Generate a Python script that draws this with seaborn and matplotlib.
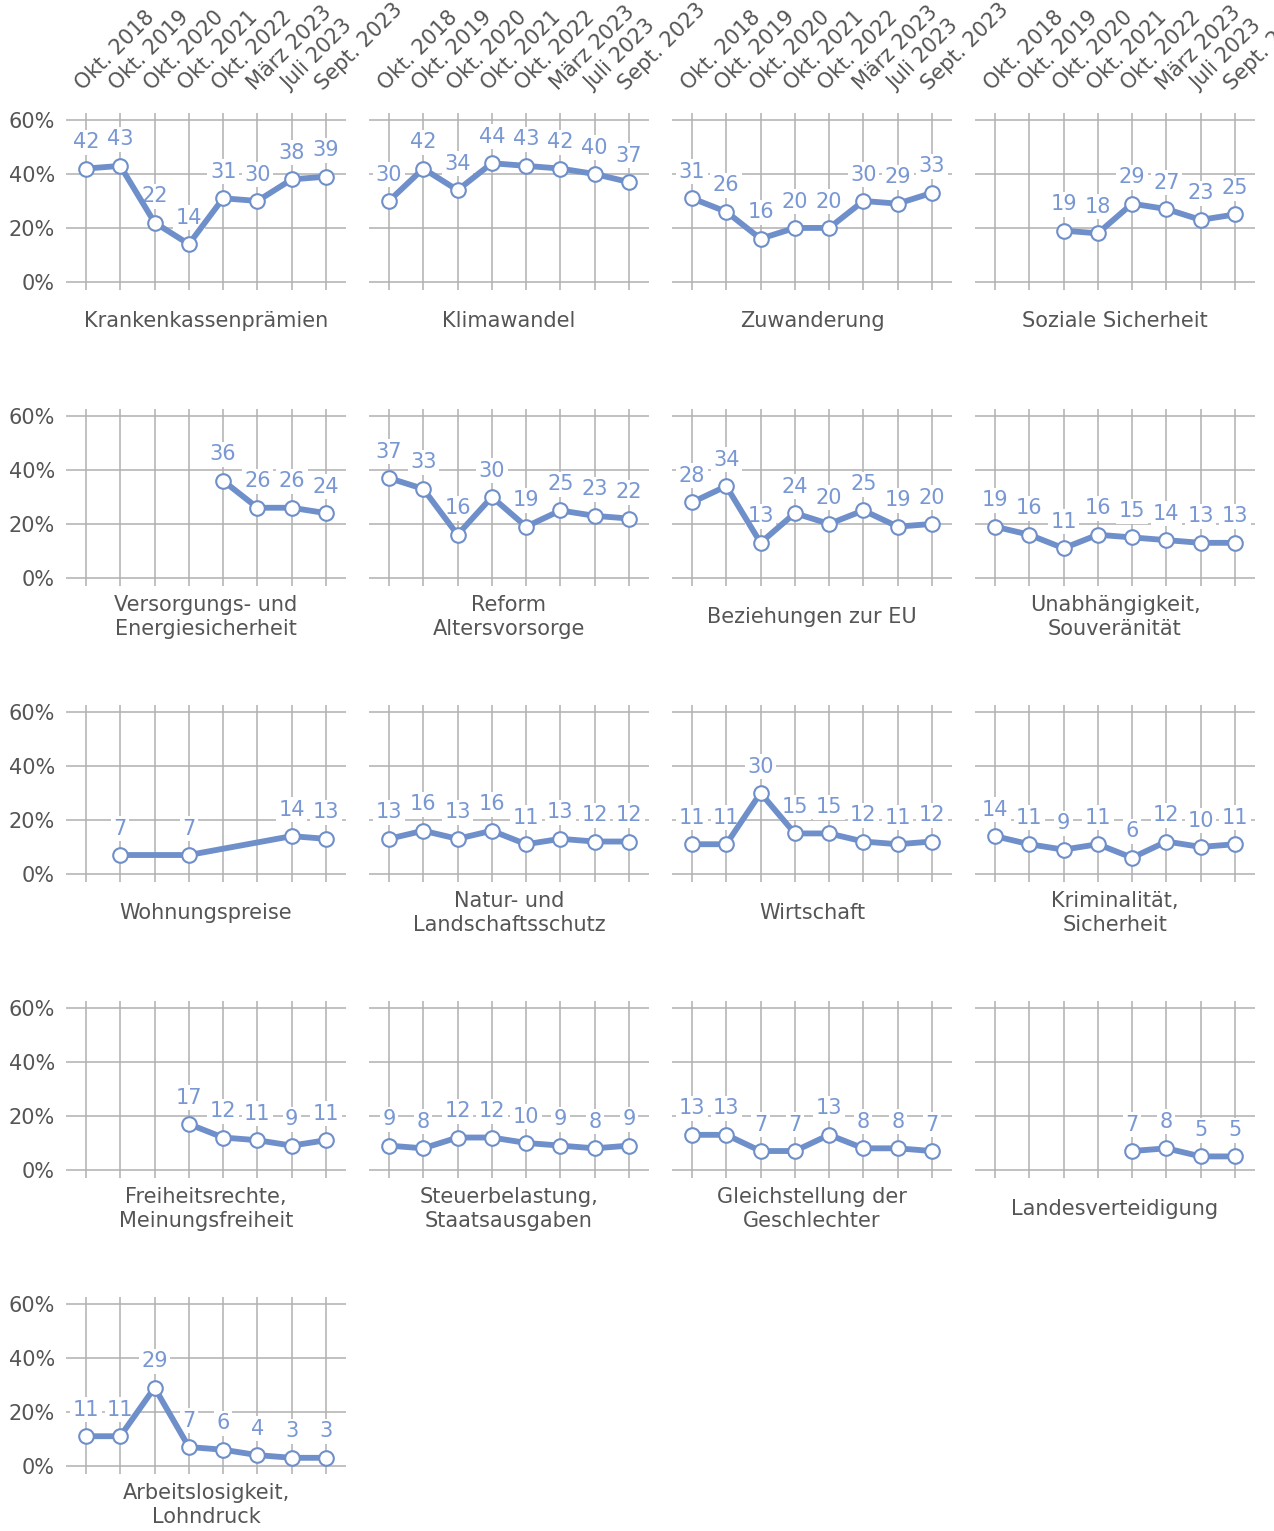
import numpy as np
import pandas as pd
import matplotlib.pyplot as plt
import seaborn as sns

sns.set_style("white")
plt.rcParams["font.family"] = ["DejaVu Sans"]

# --- Data ---------------------------------------------------------------
periods = ["Okt. 2018", "Okt. 2019", "Okt. 2020", "Okt. 2021", "Okt. 2022",
           "März 2023", "Juli 2023", "Sept. 2023"]
nan = np.nan

krankenkassen = [42, 43, 22, 14, 31, 30, 38, 39]
klimawandel = [30, 42, 34, 44, 43, 42, 40, 37]
zuwanderung = [31, 26, 16, 20, 20, 30, 29, 33]
soziale_sicherheit = [nan, nan, 19, 18, 29, 27, 23, 25]
energie = [nan, nan, nan, nan, 36, 26, 26, 24]
altersvorsorge = [37, 33, 16, 30, 19, 25, 23, 22]
eu = [28, 34, 13, 24, 20, 25, 19, 20]
souveraenitaet = [19, 16, 11, 16, 15, 14, 13, 13]
wohnungspreise = [nan, 7, nan, 7, nan, nan, 14, 13]
naturschutz = [13, 16, 13, 16, 11, 13, 12, 12]
wirtschaft = [11, 11, 30, 15, 15, 12, 11, 12]
kriminalitaet = [14, 11, 9, 11, 6, 12, 10, 11]
freiheitsrechte = [nan, nan, nan, 17, 12, 11, 9, 11]
steuern = [9, 8, 12, 12, 10, 9, 8, 9]
gleichstellung = [13, 13, 7, 7, 13, 8, 8, 7]
verteidigung = [nan, nan, nan, nan, 7, 8, 5, 5]
arbeitslosigkeit = [11, 11, 29, 7, 6, 4, 3, 3]

panels = [
    ("Krankenkassenprämien", krankenkassen),
    ("Klimawandel", klimawandel),
    ("Zuwanderung", zuwanderung),
    ("Soziale Sicherheit", soziale_sicherheit),
    ("Versorgungs- und\nEnergiesicherheit", energie),
    ("Reform\nAltersvorsorge", altersvorsorge),
    ("Beziehungen zur EU", eu),
    ("Unabhängigkeit,\nSouveränität", souveraenitaet),
    ("Wohnungspreise", wohnungspreise),
    ("Natur- und\nLandschaftsschutz", naturschutz),
    ("Wirtschaft", wirtschaft),
    ("Kriminalität,\nSicherheit", kriminalitaet),
    ("Freiheitsrechte,\nMeinungsfreiheit", freiheitsrechte),
    ("Steuerbelastung,\nStaatsausgaben", steuern),
    ("Gleichstellung der\nGeschlechter", gleichstellung),
    ("Landesverteidigung", verteidigung),
    ("Arbeitslosigkeit,\nLohndruck", arbeitslosigkeit),
]

rows = []
for title, vals in panels:
    for i, v in enumerate(vals):
        rows.append({"topic": title, "pos": i, "share": v})
df = pd.DataFrame(rows).dropna()

# --- Style ----------------------------------------------------------------
LINE = "#6f8fca"
LABEL = "#7897d3"
GRID = "#b0b0b0"
TEXT = "#555555"
FS = 15

fig, axes = plt.subplots(5, 4, figsize=(12.74, 15.31), dpi=100)
fig.subplots_adjust(left=66 / 1274, right=1255 / 1274,
                    top=1 - 113 / 1531, bottom=1 - 1474 / 1531,
                    wspace=23 / 280, hspace=119 / 177)

flat = axes.flatten()
for k, ax in enumerate(flat):
    if k >= len(panels):
        ax.remove()
        continue
    title, _ = panels[k]
    sub = df[df["topic"] == title]
    row, col = divmod(k, 4)

    sns.lineplot(data=sub, x="pos", y="share", ax=ax, color=LINE, lw=4.2,
                 marker="o", markersize=10.5, markerfacecolor="white",
                 markeredgecolor=LINE, markeredgewidth=1.5, zorder=3)

    for _, r in sub.iterrows():
        ax.annotate(f"{r['share']:.0f}", (r["pos"], r["share"]),
                    xytext=(0, 19), textcoords="offset points",
                    ha="center", va="center", fontsize=FS, color=LABEL,
                    bbox=dict(boxstyle="square,pad=0.12", fc="white", ec="none"),
                    zorder=2.5)

    ax.set_xlim(-0.583, 7.583)
    ax.set_ylim(-3, 62.6)
    ax.set_xticks(range(len(periods)))
    ax.set_yticks([0, 20, 40, 60])
    ax.grid(True, color=GRID, lw=1.1, zorder=0)
    ax.set_axisbelow(True)
    for s in ax.spines.values():
        s.set_visible(False)
    ax.set_xlabel("")
    ax.set_ylabel("")

    if row == 0:
        ax.xaxis.tick_top()
        ax.set_xticklabels(periods, rotation=45, ha="left", va="bottom",
                           rotation_mode="anchor", fontsize=FS, color=TEXT)
        ax.tick_params(axis="x", length=0, pad=14)
    else:
        ax.set_xticklabels([])
        ax.tick_params(axis="x", length=0)

    if col == 0:
        ax.set_yticklabels([f"{t}%" for t in [0, 20, 40, 60]],
                           fontsize=FS, color=TEXT)
        ax.tick_params(axis="y", length=0, pad=8)
    else:
        ax.set_yticklabels([])
        ax.tick_params(axis="y", length=0)

    ax.text(0.5, -0.175, title, transform=ax.transAxes, ha="center",
            va="center", fontsize=FS, color=TEXT, linespacing=1.25)

fig.savefig("out.png", dpi=100)
